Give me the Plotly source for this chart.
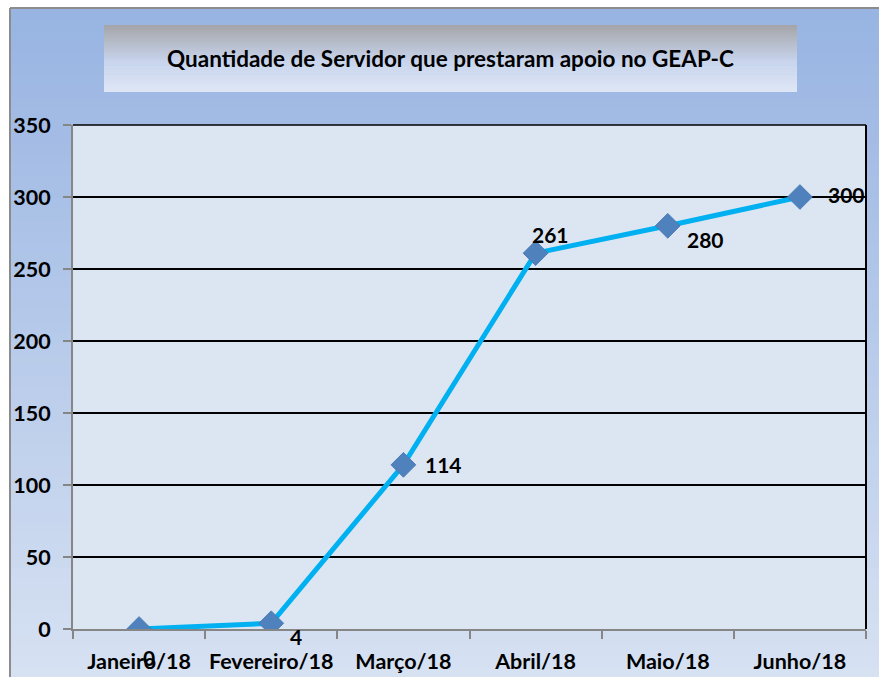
import plotly.graph_objects as go

# ---- data ----
categories = ["Janeiro/18", "Fevereiro/18", "Março/18", "Abril/18", "Maio/18", "Junho/18"]
values = [0, 4, 114, 261, 280, 300]
y_ticks = [0, 50, 100, 150, 200, 250, 300, 350]
title_text = "Quantidade de Servidor que prestaram apoio no GEAP-C"

# label offsets (pixels) – styling only
label_offsets = [(10, -28), (25, -13), (40, 0), (15, 19), (38, -14), (47, 3)]

W, H = 879, 677
L, R, T, B = 73, 13, 125, 48
PW, PH = W - L - R, H - T - B
FONT = "Lato, Open Sans, sans-serif"


def px2x(px):
    return (px - L) / PW


def py2y(py):
    return (H - B - py) / PH


def lerp(c1, c2, t):
    return "rgb(%d,%d,%d)" % tuple(round(a + (b - a) * t) for a, b in zip(c1, c2))


shapes = []
# outer background gradient
top_c, bot_c = (152, 180, 226), (214, 225, 242)
N = 60
y0p, y1p = 8, H + 2
for i in range(N):
    a = y0p + (y1p - y0p) * i / N
    b = y0p + (y1p - y0p) * (i + 1) / N + 1
    shapes.append(dict(type="rect", xref="paper", yref="paper",
                       x0=px2x(10), x1=px2x(W + 2), y0=py2y(b), y1=py2y(a),
                       fillcolor=lerp(top_c, bot_c, i / (N - 1)), line=dict(width=0), layer="below"))
# outer border (left & top)
shapes.append(dict(type="line", xref="paper", yref="paper", x0=px2x(10), x1=px2x(10),
                   y0=py2y(H + 2), y1=py2y(8), line=dict(color="#8c8c8c", width=2), layer="below"))
shapes.append(dict(type="line", xref="paper", yref="paper", x0=px2x(10), x1=px2x(W + 2),
                   y0=py2y(8), y1=py2y(8), line=dict(color="#8c8c8c", width=2), layer="below"))
# plot-area fill
shapes.append(dict(type="rect", xref="paper", yref="paper", x0=0, x1=1, y0=0, y1=1,
                   fillcolor="#dce6f2", line=dict(width=0), layer="below"))
# title box gradient
bx0, bx1, by0, by1 = 104, 797, 25, 92
stops = [(0.0, (166, 166, 170)), (0.55, (200, 213, 237)), (1.0, (222, 230, 245))]


def grad(t):
    for (t0, c0), (t1, c1) in zip(stops[:-1], stops[1:]):
        if t <= t1:
            return lerp(c0, c1, (t - t0) / (t1 - t0))
    return lerp(stops[-1][1], stops[-1][1], 0)


M = 30
for i in range(M):
    a = by0 + (by1 - by0) * i / M
    b = by0 + (by1 - by0) * (i + 1) / M + (0.6 if i < M - 1 else 0)
    shapes.append(dict(type="rect", xref="paper", yref="paper",
                       x0=px2x(bx0), x1=px2x(bx1), y0=py2y(b), y1=py2y(a),
                       fillcolor=grad(i / (M - 1)), line=dict(width=0), layer="below"))
# right and top plot border (black)
shapes.append(dict(type="line", xref="paper", yref="paper", x0=1, x1=1, y0=0, y1=1,
                   line=dict(color="black", width=2), layer="above"))
shapes.append(dict(type="line", xref="paper", yref="paper", x0=0, x1=1, y0=1, y1=1,
                   line=dict(color="black", width=1.5), layer="below"))

fig = go.Figure()
fig.add_trace(go.Scatter(
    x=categories, y=values, mode="lines+markers",
    line=dict(color="#00b0f0", width=5),
    marker=dict(symbol="diamond", size=19, color="#4f81bd", line=dict(color="#4a7ab5", width=1)),
    hoverinfo="x+y", showlegend=False,
))

annotations = []
for c, v, (dx, dy) in zip(categories, values, label_offsets):
    annotations.append(dict(x=c, y=v, xref="x", yref="y", text=str(v), showarrow=False,
                            xshift=dx, yshift=dy,
                            font=dict(family=FONT, size=21, color="black", weight="bold")))
annotations.append(dict(x=px2x((bx0 + bx1) / 2), y=py2y(58), xref="paper", yref="paper",
                        text=title_text, showarrow=False, xanchor="center", yanchor="middle",
                        font=dict(family=FONT, size=22.5, color="black", weight="bold")))

fig.update_layout(
    width=W, height=H,
    margin=dict(l=L, r=R, t=T, b=B, autoexpand=False),
    paper_bgcolor="white",
    plot_bgcolor="#dce6f2",
    shapes=shapes,
    annotations=annotations,
    xaxis=dict(type="category", range=[-0.5, 5.5], showgrid=False, zeroline=False,
               showline=True, linecolor="#868686", linewidth=2, automargin=False, tickangle=0,
               ticks="outside", tickson="boundaries", ticklen=8, tickcolor="#868686", tickwidth=1.5,
               ticklabelstandoff=12,
               tickfont=dict(family=FONT, size=21.5, color="black", weight="bold")),
    yaxis=dict(range=[0, 350], tickvals=y_ticks, showgrid=True, gridcolor="black", gridwidth=1.5,
               zeroline=False, showline=True, linecolor="#868686", linewidth=2, automargin=False,
               ticks="outside", ticklen=8, tickcolor="#868686", tickwidth=1.5,
               ticklabelstandoff=8,
               tickfont=dict(family=FONT, size=21.5, color="black", weight="bold")),
)

fig.write_html("out.html", config={"displayModeBar": False},
               post_script="document.body.style.margin='0';document.body.style.padding='0';")
